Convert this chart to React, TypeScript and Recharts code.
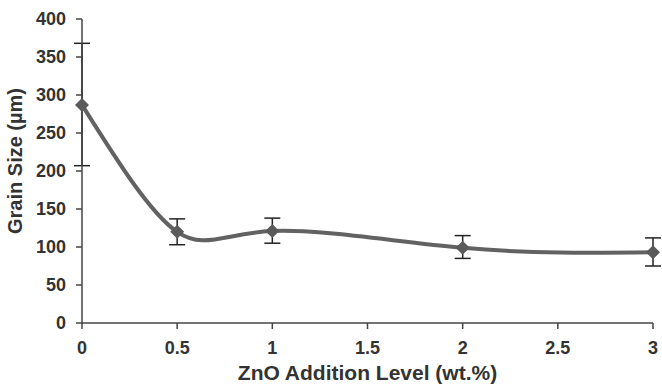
import React from 'react';
import { LineChart, Line, XAxis, YAxis, ErrorBar } from 'recharts';

const znoLevel = [0, 0.5, 1, 2, 3];
const grainSize = [287, 120, 121, 99, 93];
const errLow = [80, 17, 16, 14, 18];
const errHigh = [81, 17, 17, 16, 19];
const xTicks = [0, 0.5, 1, 1.5, 2, 2.5, 3];
const yTicks = [0, 50, 100, 150, 200, 250, 300, 350, 400];

const data = znoLevel.map((x, i) => ({
  x,
  y: grainSize[i],
  err: [errLow[i], errHigh[i]],
}));

const font = { fontFamily: 'Liberation Sans, Arial, sans-serif', fontWeight: 700, fontSize: 18, fill: '#333' };
const titleFont = { ...font, fontSize: 21 };

const Diamond = (props: any) => {
  const { cx, cy } = props;
  if (cx == null || cy == null) return null;
  const r = 7;
  return <path d={`M${cx},${cy - r}L${cx + r},${cy}L${cx},${cy + r}L${cx - r},${cy}Z`} fill="#5a5a5a" />;
};

export default function App() {
  return (
    <div style={{ width: 662, height: 387, background: '#fff' }}>
      <style>{'body{margin:0}'}</style>
      <LineChart width={662} height={387} data={data} margin={{ top: 19, right: 9, left: 0, bottom: 0 }}>
        <XAxis
          dataKey="x"
          type="number"
          domain={[0, 3]}
          ticks={xTicks}
          tick={font}
          tickMargin={12}
          height={64}
          stroke="#444"
          strokeWidth={1.5}
          label={{ value: 'ZnO Addition Level (wt.%)', position: 'insideBottom', offset: 7, style: titleFont }}
        />
        <YAxis
          type="number"
          domain={[0, 400]}
          ticks={yTicks}
          tick={font}
          tickMargin={10}
          width={82}
          stroke="#444"
          strokeWidth={1.5}
          label={{ value: 'Grain Size (µm)', angle: -90, position: 'insideLeft', offset: 15, dy: -10, style: { ...titleFont, fontSize: 20, textAnchor: 'middle' } }}
        />
        <Line
          dataKey="y"
          type="natural"
          stroke="#626262"
          strokeWidth={4}
          dot={<Diamond />}
          activeDot={false}
          isAnimationActive={false}
        >
          <ErrorBar dataKey="err" direction="y" width={8} stroke="#222" strokeWidth={1.5} />
        </Line>
      </LineChart>
    </div>
  );
}
